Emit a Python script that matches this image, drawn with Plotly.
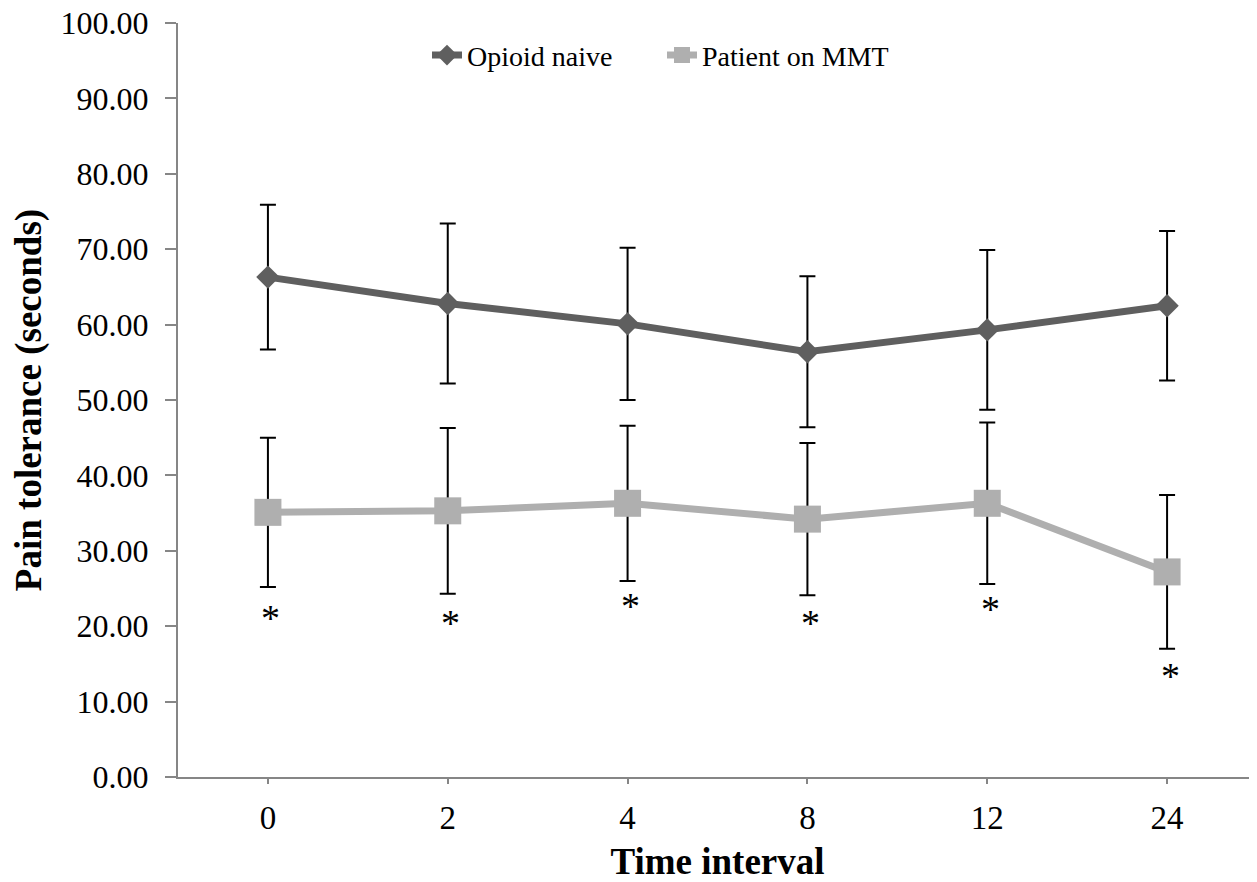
import plotly.graph_objects as go

# ---- data ----
time_labels = ["0", "2", "4", "8", "12", "24"]

opioid_naive = [66.3, 62.8, 60.1, 56.4, 59.3, 62.5]
opioid_naive_err = [9.6, 10.6, 10.1, 10.0, 10.6, 9.9]

mmt = [35.1, 35.3, 36.3, 34.2, 36.3, 27.2]
mmt_err = [9.9, 11.0, 10.3, 10.1, 10.7, 10.2]

asterisk_y = [21.8, 21.1, 23.3, 21.1, 22.9, 14.1]

y_ticks = [0, 10, 20, 30, 40, 50, 60, 70, 80, 90, 100]

FONT = "Liberation Serif, Times New Roman, serif"
AXIS_COLOR = "#868686"

fig = go.Figure()

fig.add_trace(go.Scatter(
    x=time_labels, y=opioid_naive, name="Opioid naive",
    mode="lines+markers",
    line=dict(color="#5f5f5f", width=7),
    marker=dict(symbol="diamond", size=18, color="#5f5f5f"),
    error_y=dict(type="data", array=opioid_naive_err, visible=True,
                 color="black", thickness=2, width=8),
))

fig.add_trace(go.Scatter(
    x=time_labels, y=mmt, name="Patient on MMT",
    mode="lines+markers",
    line=dict(color="#afafaf", width=7),
    marker=dict(symbol="square", size=27, color="#afafaf"),
    error_y=dict(type="data", array=mmt_err, visible=True,
                 color="black", thickness=2, width=8),
))

for i, ya in enumerate(asterisk_y):
    fig.add_annotation(x=i, y=ya, text="*", showarrow=False,
                       xref="x", yref="y", yanchor="middle", xshift=3, yshift=-5,
                       font=dict(family=FONT, size=38, color="black"))

# page body has an 8px margin; figure sized/offset so the plot lands where the reference has it
fig.update_layout(
    width=1249, height=874,
    margin=dict(l=170, r=0, t=15, b=105, autoexpand=False),
    paper_bgcolor="white", plot_bgcolor="white",
    font=dict(family=FONT, color="black"),
    showlegend=True,
    legend=dict(orientation="h", x=(427 - 178) / 1079, xanchor="left",
                y=0.957, yanchor="middle", xref="paper", yref="paper",
                font=dict(family=FONT, size=28, color="black"),
                entrywidth=190, bgcolor="rgba(0,0,0,0)"),
)

fig.update_xaxes(
    type="category", categoryorder="array", categoryarray=time_labels,
    range=[-0.5, 5.5],
    showline=True, linecolor=AXIS_COLOR, linewidth=2,
    ticks="outside", ticklen=5, tickcolor=AXIS_COLOR, tickwidth=2,
    showgrid=False, zeroline=False,
    tickfont=dict(family=FONT, size=33, color="black"),
    ticklabelstandoff=5,
    title=dict(text="<b>Time interval</b>", font=dict(family=FONT, size=37, color="black"),
               standoff=26),
)

fig.update_yaxes(
    range=[0, 100], tickvals=y_ticks, tickformat=".2f",
    showline=True, linecolor=AXIS_COLOR, linewidth=2,
    ticks="outside", ticklen=11, tickcolor=AXIS_COLOR, tickwidth=2,
    showgrid=False, zeroline=False,
    tickfont=dict(family=FONT, size=32, color="black"),
    ticklabelstandoff=10, ticklabeloverflow="allow",
    title=dict(text="<b>Pain tolerance (seconds)</b>", font=dict(family=FONT, size=37, color="black"),
               standoff=16),
)

fig.write_html("out.html")
